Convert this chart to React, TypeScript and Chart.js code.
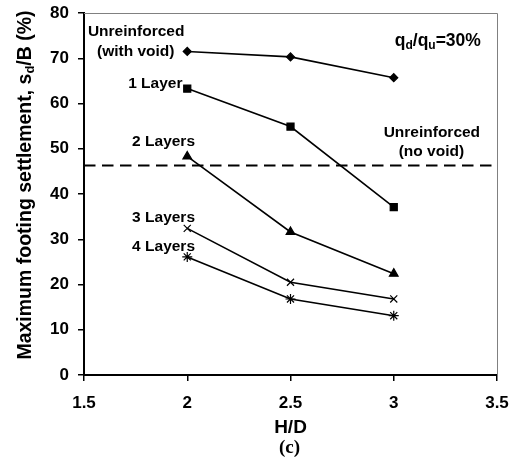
import React, { useEffect, useRef } from "react";
import { Chart, registerables } from "chart.js";

Chart.register(...registerables);

const hdValues = [2, 2.5, 3];
const unreinforcedVoid = [71.5, 70.3, 65.7];
const oneLayer = [63.3, 54.9, 37.1];
const twoLayers = [48.3, 31.6, 22.4];
const threeLayers = [32.4, 20.5, 16.8];
const fourLayers = [26.1, 16.8, 13.1];
const noVoidX = [1.5, 3.5];
const noVoidY = [46.3, 46.3];
const yTicks = [0, 10, 20, 30, 40, 50, 60, 70, 80];
const xTicks = [1.5, 2, 2.5, 3, 3.5];

const FONT = "'Liberation Sans', Arial, sans-serif";

const annotations: { text: string; x: number; y: number }[] = [
  { text: "Unreinforced", x: 1.519, y: 75.0 },
  { text: "(with void)", x: 1.563, y: 70.6 },
  { text: "1 Layer", x: 1.714, y: 63.4 },
  { text: "2 Layers", x: 1.733, y: 50.5 },
  { text: "3 Layers", x: 1.733, y: 33.9 },
  { text: "4 Layers", x: 1.733, y: 27.5 },
  { text: "Unreinforced", x: 2.951, y: 52.7 },
  { text: "(no void)", x: 3.024, y: 48.3 },
];

function makeSeries(label: string, ys: number[], style: string, radius: number) {
  return {
    label,
    data: hdValues.map((x, i) => ({ x, y: ys[i] })),
    borderColor: "#000",
    backgroundColor: "#000",
    borderWidth: 1.6,
    pointStyle: style,
    pointRadius: radius,
    pointBorderWidth: 1.2,
    pointBorderColor: "#000",
    pointBackgroundColor: "#000",
    showLine: true,
    tension: 0,
  };
}

const overlay = {
  id: "overlay",
  afterDraw(chart: any) {
    const { ctx, chartArea, scales } = chart;
    const xs = scales.x;
    const ys = scales.y;
    ctx.save();
    // top & right gray frame
    ctx.strokeStyle = "#808080";
    ctx.lineWidth = 1;
    ctx.beginPath();
    ctx.moveTo(chartArea.left, chartArea.top + 0.5);
    ctx.lineTo(chartArea.right + 0.5, chartArea.top + 0.5);
    ctx.lineTo(chartArea.right + 0.5, chartArea.bottom);
    ctx.stroke();

    ctx.fillStyle = "#000";
    ctx.textBaseline = "alphabetic";
    ctx.textAlign = "left";
    ctx.font = `bold 15.5px ${FONT}`;
    for (const a of annotations) {
      ctx.fillText(a.text, xs.getPixelForValue(a.x), ys.getPixelForValue(a.y));
    }

    // q_d/q_u=30%
    const rx = xs.getPixelForValue(3.422);
    const ry = ys.getPixelForValue(72.8);
    const parts: { t: string; sub: boolean }[] = [
      { t: "q", sub: false },
      { t: "d", sub: true },
      { t: "/q", sub: false },
      { t: "u", sub: true },
      { t: "=30%", sub: false },
    ];
    const big = `bold 17.5px ${FONT}`;
    const small = `bold 12px ${FONT}`;
    let total = 0;
    for (const p of parts) {
      ctx.font = p.sub ? small : big;
      total += ctx.measureText(p.t).width;
    }
    let cx = rx - total;
    for (const p of parts) {
      ctx.font = p.sub ? small : big;
      ctx.fillText(p.t, cx, ry + (p.sub ? 3 : 0));
      cx += ctx.measureText(p.t).width;
    }

    // y axis title, rotated, with subscript
    const yParts: { t: string; sub: boolean }[] = [
      { t: "Maximum footing settlement, s", sub: false },
      { t: "d", sub: true },
      { t: "/B (%)", sub: false },
    ];
    const tBig = `bold 19.5px ${FONT}`;
    const tSmall = `bold 13px ${FONT}`;
    let tw = 0;
    for (const p of yParts) {
      ctx.font = p.sub ? tSmall : tBig;
      tw += ctx.measureText(p.t).width;
    }
    ctx.textBaseline = "middle";
    ctx.translate(26, 185);
    ctx.rotate(-Math.PI / 2);
    let px = -tw / 2;
    for (const p of yParts) {
      ctx.font = p.sub ? tSmall : tBig;
      ctx.fillText(p.t, px, p.sub ? 4 : 0);
      px += ctx.measureText(p.t).width;
    }
    ctx.restore();

    ctx.save();
    ctx.fillStyle = "#000";
    ctx.textAlign = "center";
    ctx.textBaseline = "middle";
    ctx.font = `bold 19px ${FONT}`;
    ctx.fillText("H/D", xs.getPixelForValue(2.5), 428);
    ctx.font = `bold 19px 'Liberation Serif', 'Times New Roman', serif`;
    ctx.fillText("(c)", xs.getPixelForValue(2.5) - 1, 448);
    ctx.restore();
  },
};

export default function App() {
  const ref = useRef<HTMLCanvasElement | null>(null);
  useEffect(() => {
    if (!ref.current) return;
    const chart = new Chart(ref.current, {
      type: "scatter",
      data: {
        datasets: [
          {
            label: "Unreinforced (no void)",
            data: noVoidX.map((x, i) => ({ x, y: noVoidY[i] })),
            borderColor: "#000",
            borderWidth: 2,
            borderDash: [11.5, 6.5],
            pointRadius: 0,
            showLine: true,
          } as any,
          makeSeries("Unreinforced (with void)", unreinforcedVoid, "rectRot", 4),
          makeSeries("1 Layer", oneLayer, "rect", 5),
          makeSeries("2 Layers", twoLayers, "triangle", 5),
          makeSeries("3 Layers", threeLayers, "crossRot", 5),
          makeSeries("4 Layers", fourLayers, "star", 5),
        ],
      },
      options: {
        animation: false,
        responsive: false,
        devicePixelRatio: 1,
        layout: { autoPadding: false, padding: { left: 0, top: 13, right: 20, bottom: 0 } },
        plugins: { legend: { display: false }, tooltip: { enabled: false } },
        scales: {
          x: {
            type: "linear",
            min: 1.5,
            max: 3.5,
            afterBuildTicks: (s: any) => {
              s.ticks = xTicks.map((v) => ({ value: v }));
            },
            afterFit: (s: any) => {
              s.height = 96;
              s.paddingLeft = 0;
              s.paddingRight = 0;
              s.paddingTop = 0;
              s.paddingBottom = 0;
            },
            ticks: {
              color: "#000",
              font: { family: FONT, size: 17, weight: "bold" },
              padding: 12,
              maxRotation: 0,
              callback: (v: any) => String(v),
            },
            grid: { drawOnChartArea: false, drawTicks: true, tickLength: 6, color: "#000", lineWidth: 1.5 },
            border: { color: "#000", width: 2 },
          },
          y: {
            type: "linear",
            min: 0,
            max: 80,
            afterBuildTicks: (s: any) => {
              s.ticks = yTicks.map((v) => ({ value: v }));
            },
            afterFit: (s: any) => {
              s.width = 84;
              s.paddingLeft = 0;
              s.paddingRight = 0;
              s.paddingTop = 0;
              s.paddingBottom = 0;
            },
            ticks: {
              color: "#000",
              font: { family: FONT, size: 17, weight: "bold" },
              padding: 9,
              callback: (v: any) => String(v),
            },
            grid: { drawOnChartArea: false, drawTicks: true, tickLength: 6, color: "#000", lineWidth: 1.5 },
            border: { color: "#000", width: 2 },
          },
        },
      } as any,
      plugins: [overlay],
    });
    return () => chart.destroy();
  }, []);
  return (
    <div style={{ position: "absolute", left: 0, top: 0, width: 517, height: 471, background: "#fff" }}>
      <canvas ref={ref} width={517} height={471} style={{ width: 517, height: 471 }} />
    </div>
  );
}
